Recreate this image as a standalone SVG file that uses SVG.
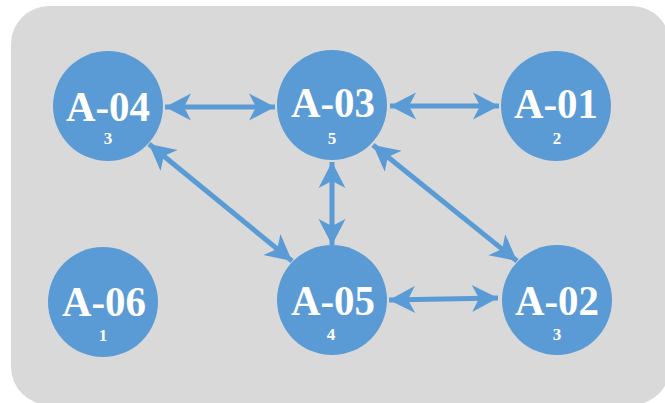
<svg xmlns="http://www.w3.org/2000/svg" width="665" height="403" viewBox="0 0 665 403">
<defs>
<style>
.bg{fill:#d9d9d9}
.node circle{fill:#5b9bd5}
.lbl{font-family:"Liberation Serif","DejaVu Serif",serif;font-weight:bold;font-size:42px;fill:#fff;text-anchor:middle}
.num{font-family:"Liberation Serif","DejaVu Serif",serif;font-weight:bold;font-size:17px;fill:#fff;text-anchor:middle}
.edge{stroke:#5b9bd5;stroke-width:5;fill:none}
</style>
<marker id="ah" markerUnits="userSpaceOnUse" markerWidth="30" markerHeight="30" viewBox="-26 -15 28 30" refX="0" refY="0" orient="auto-start-reverse">
<path d="M0,0 L-26,-13.5 L-19,0 L-26,13.5 Z" fill="#5b9bd5"/>
</marker>
</defs>
<rect class="bg" x="11" y="6" width="659" height="399" rx="38"/>
<g id="connectors">
<path class="edge" d="M165,107 L275,107" marker-start="url(#ah)" marker-end="url(#ah)"/>
<path class="edge" d="M390,106 L499,106" marker-start="url(#ah)" marker-end="url(#ah)"/>
<path class="edge" d="M149,144 L292,261" marker-start="url(#ah)" marker-end="url(#ah)"/>
<path class="edge" d="M332,162 L332,245" marker-start="url(#ah)" marker-end="url(#ah)"/>
<path class="edge" d="M373,145 L517,261" marker-start="url(#ah)" marker-end="url(#ah)"/>
<path class="edge" d="M389,300 L498,298" marker-start="url(#ah)" marker-end="url(#ah)"/>
</g>
<g id="A-04" class="node"><circle cx="108" cy="106" r="55"/><text class="lbl" x="108" y="121" textLength="84" lengthAdjust="spacingAndGlyphs">A-04</text><text class="num" x="108" y="144">3</text></g>
<g id="A-03" class="node"><circle cx="332" cy="105" r="55"/><text class="lbl" x="333" y="117" textLength="84" lengthAdjust="spacingAndGlyphs">A-03</text><text class="num" x="332" y="144">5</text></g>
<g id="A-01" class="node"><circle cx="556" cy="106" r="55"/><text class="lbl" x="556" y="118" textLength="84" lengthAdjust="spacingAndGlyphs">A-01</text><text class="num" x="557" y="144">2</text></g>
<g id="A-06" class="node"><circle cx="103" cy="302" r="55"/><text class="lbl" x="104" y="316" textLength="84" lengthAdjust="spacingAndGlyphs">A-06</text><text class="num" x="103" y="341">1</text></g>
<g id="A-05" class="node"><circle cx="332" cy="300" r="55"/><text class="lbl" x="333" y="315" textLength="84" lengthAdjust="spacingAndGlyphs">A-05</text><text class="num" x="331" y="340">4</text></g>
<g id="A-02" class="node"><circle cx="557" cy="300" r="55"/><text class="lbl" x="557" y="315" textLength="84" lengthAdjust="spacingAndGlyphs">A-02</text><text class="num" x="557" y="340">3</text></g>
</svg>
